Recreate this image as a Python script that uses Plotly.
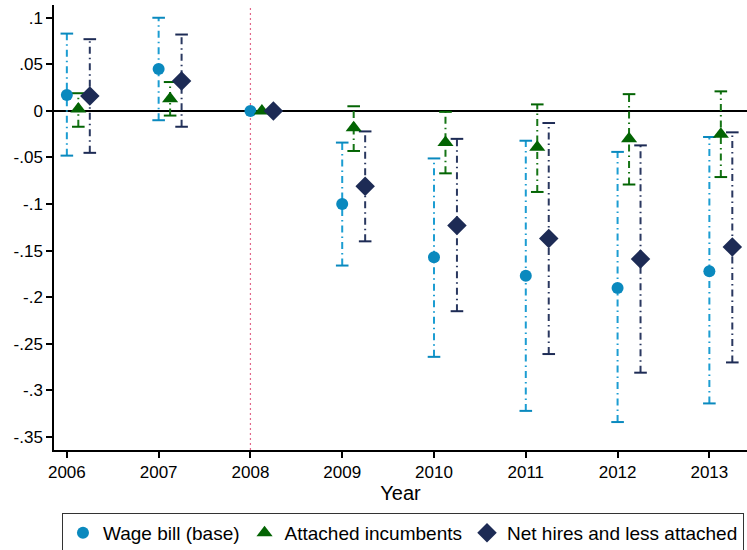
import plotly.graph_objects as go

years = [2006, 2007, 2008, 2009, 2010, 2011, 2012, 2013]

wage_est = [0.017, 0.045, 0.0, -0.100, -0.157, -0.177, -0.190, -0.172]
wage_lo = [-0.048, -0.010, 0.0, -0.166, -0.264, -0.322, -0.334, -0.314]
wage_hi = [0.083, 0.100, 0.0, -0.034, -0.051, -0.032, -0.044, -0.028]

att_est = [0.002, 0.013, 0.0, -0.018, -0.034, -0.039, -0.030, -0.025]
att_lo = [-0.017, -0.005, 0.0, -0.043, -0.067, -0.087, -0.079, -0.071]
att_hi = [0.019, 0.031, 0.0, 0.005, -0.001, 0.007, 0.018, 0.021]

net_est = [0.016, 0.032, 0.0, -0.081, -0.123, -0.137, -0.159, -0.146]
net_lo = [-0.045, -0.017, 0.0, -0.140, -0.215, -0.261, -0.281, -0.270]
net_hi = [0.077, 0.082, 0.0, -0.022, -0.030, -0.013, -0.037, -0.023]

series_names = ["Wage bill (base)", "Attached incumbents", "Net hires and less attached"]
y_tickvals = [0.1, 0.05, 0, -0.05, -0.1, -0.15, -0.2, -0.25, -0.3, -0.35]
y_ticktext = [".1", ".05", "0", "-.05", "-.1", "-.15", "-.2", "-.25", "-.3", "-.35"]

FONT = "Liberation Sans, Arial, Helvetica, sans-serif"

series = [
    dict(name=series_names[0], est=wage_est, lo=wage_lo, hi=wage_hi, offset=0.0,
         color="#0A89BE", ci_color="#1C9DD2", symbol="circle", size=12),
    dict(name=series_names[1], est=att_est, lo=att_lo, hi=att_hi, offset=0.125,
         color="#036403", ci_color="#167516", symbol="triangle-up", size=14),
    dict(name=series_names[2], est=net_est, lo=net_lo, hi=net_hi, offset=0.25,
         color="#1D2B55", ci_color="#2A3860", symbol="diamond", size=15),
]

fig = go.Figure()

# confidence interval lines and caps
for s in series:
    xs, ys, cx, cy = [], [], [], []
    for yr, lo, hi in zip(years, s["lo"], s["hi"]):
        if lo == hi:
            continue
        x = yr + s["offset"]
        xs += [x, x, None]
        ys += [lo, hi, None]
        cx += [x, x]
        cy += [lo, hi]
    fig.add_trace(go.Scatter(
        x=xs, y=ys, mode="lines", showlegend=False, hoverinfo="skip",
        line=dict(color=s["ci_color"], width=2, dash="7px,4px,1.5px,4px"),
    ))
    fig.add_trace(go.Scatter(
        x=cx, y=cy, mode="markers", showlegend=False, hoverinfo="skip",
        marker=dict(symbol="line-ew", size=9,
                    line=dict(color=s["color"], width=2)),
    ))

# point estimates
for s in series:
    fig.add_trace(go.Scatter(
        x=[yr + s["offset"] for yr in years], y=s["est"], mode="markers",
        name=s["name"],
        marker=dict(symbol=s["symbol"], size=s["size"], color=s["color"],
                    line=dict(width=0)),
    ))

fig.add_shape(type="line", xref="x", yref="paper", x0=2008, x1=2008, y0=0, y1=1,
              line=dict(color="#E2688A", width=1.2, dash="2px,3px"), layer="below")

fig.update_layout(
    width=747, height=550,
    margin=dict(l=54, r=0, t=5, b=100, autoexpand=False),
    paper_bgcolor="white", plot_bgcolor="white",
    font=dict(family=FONT, size=17, color="black"),
    showlegend=True,
    legend=dict(
        orientation="h", x=0.0115, xanchor="left", y=-0.1416, yanchor="top",
        bordercolor="#333333", borderwidth=1, bgcolor="white",
        font=dict(family=FONT, size=19, color="black"),
        itemwidth=30, tracegroupgap=0,
    ),
    xaxis=dict(
        range=[2005.86, 2013.41], tickvals=years, ticktext=[str(y) for y in years],
        showgrid=False, zeroline=False, showline=True, linecolor="black", linewidth=1.5,
        ticks="outside", ticklen=6, tickwidth=1.5, tickcolor="black",
        tickfont=dict(size=17),
        title=dict(text="Year", font=dict(size=20), standoff=0),
    ),
    yaxis=dict(
        range=[-0.364, 0.1137], tickvals=y_tickvals, ticktext=y_ticktext,
        showgrid=False, zeroline=True, zerolinecolor="black", zerolinewidth=2,
        showline=True, linecolor="black", linewidth=1.5,
        ticks="outside", ticklen=6, tickwidth=1.5, tickcolor="black",
        tickfont=dict(size=17),
    ),
)

fig.write_html("out.html")
